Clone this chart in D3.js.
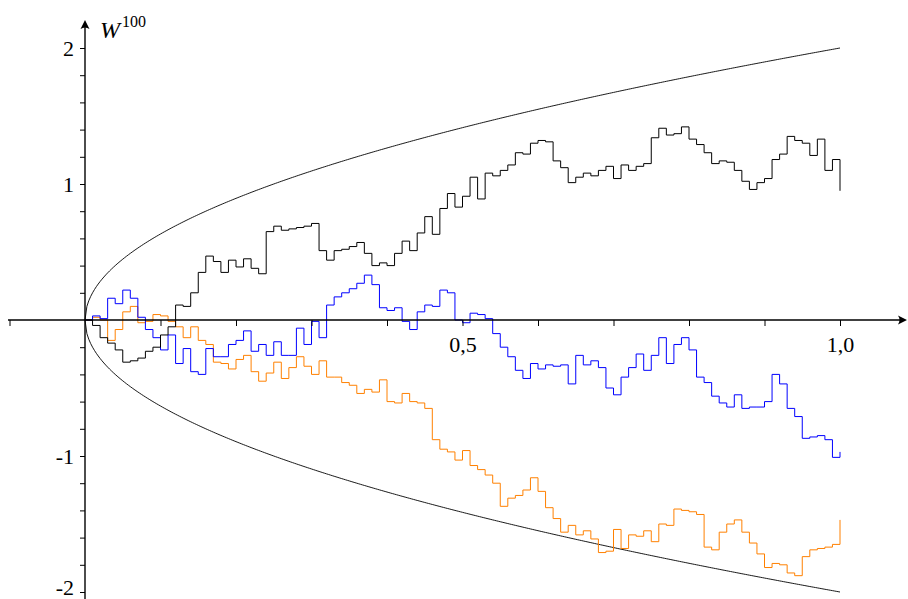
<!DOCTYPE html>
<html>
<head>
<meta charset="utf-8">
<script src="https://cdn.jsdelivr.net/npm/d3@7"></script>
<style>
  html, body { margin: 0; padding: 0; background: #fff; }
  svg { display: block; }
  text { font-family: "Liberation Serif", "DejaVu Serif", serif; fill: #000; }
</style>
</head>
<body>
<svg id="chart" width="908" height="599"></svg>
<script>
// Three sample paths of the scaled random walk W^100 on [0, 1], values at t = k/100
const walkBlack = [0, -0.04, -0.13, -0.17, -0.22, -0.31, -0.30, -0.28, -0.23, -0.20,
  -0.11, -0.05, 0.11, 0.10, 0.20, 0.35, 0.47, 0.43, 0.35, 0.44,
  0.39, 0.45, 0.38, 0.34, 0.65, 0.69, 0.66, 0.67, 0.68, 0.69,
  0.71, 0.51, 0.44, 0.51, 0.52, 0.54, 0.57, 0.49, 0.40, 0.42,
  0.40, 0.49, 0.58, 0.51, 0.64, 0.76, 0.63, 0.82, 0.93, 0.83,
  0.91, 1.05, 0.89, 1.08, 1.06, 1.10, 1.14, 1.23, 1.22, 1.30,
  1.32, 1.31, 1.17, 1.12, 1.01, 1.05, 1.08, 1.06, 1.10, 1.13,
  1.04, 1.14, 1.10, 1.13, 1.15, 1.34, 1.41, 1.36, 1.37, 1.42,
  1.33, 1.29, 1.23, 1.15, 1.17, 1.16, 1.10, 1.02, 0.96, 1.01,
  1.04, 1.18, 1.22, 1.35, 1.32, 1.30, 1.21, 1.33, 1.10, 1.18,
  0.95];

const walkBlue = [0, 0.03, 0.01, 0.16, 0.12, 0.22, 0.16, 0.02, -0.07, -0.13,
  -0.22, -0.11, -0.32, -0.21, -0.38, -0.40, -0.21, -0.27, -0.27, -0.18,
  -0.15, -0.08, -0.23, -0.18, -0.26, -0.16, -0.26, -0.26, -0.06, -0.18,
  -0.01, -0.13, 0.11, 0.17, 0.20, 0.23, 0.27, 0.33, 0.26, 0.09,
  0.07, 0.09, -0.01, -0.07, 0.06, 0.11, 0.10, 0.22, 0.20, 0.00,
  -0.02, 0.05, 0.04, 0.01, -0.10, -0.20, -0.27, -0.37, -0.43, -0.32,
  -0.36, -0.33, -0.34, -0.33, -0.47, -0.26, -0.33, -0.30, -0.35, -0.50,
  -0.55, -0.42, -0.35, -0.25, -0.37, -0.26, -0.13, -0.32, -0.18, -0.13,
  -0.22, -0.42, -0.46, -0.56, -0.61, -0.64, -0.55, -0.65, -0.64, -0.64,
  -0.60, -0.40, -0.47, -0.65, -0.71, -0.87, -0.86, -0.85, -0.88, -1.01,
  -0.97];

const walkOrange = [0, 0.02, 0.00, -0.15, -0.07, 0.06, 0.10, -0.02, -0.01, 0.04,
  0.03, -0.01, -0.05, -0.13, -0.05, -0.15, -0.18, -0.31, -0.32, -0.36,
  -0.29, -0.26, -0.38, -0.45, -0.39, -0.31, -0.43, -0.35, -0.27, -0.34,
  -0.40, -0.30, -0.42, -0.42, -0.46, -0.48, -0.54, -0.51, -0.53, -0.44,
  -0.60, -0.61, -0.54, -0.60, -0.61, -0.65, -0.88, -0.95, -0.97, -1.03,
  -0.96, -1.07, -1.10, -1.14, -1.20, -1.37, -1.31, -1.29, -1.25, -1.16,
  -1.26, -1.38, -1.46, -1.56, -1.51, -1.58, -1.55, -1.61, -1.71, -1.70,
  -1.54, -1.68, -1.58, -1.59, -1.55, -1.63, -1.50, -1.51, -1.39, -1.40,
  -1.41, -1.43, -1.67, -1.69, -1.56, -1.50, -1.47, -1.56, -1.64, -1.72,
  -1.82, -1.79, -1.80, -1.86, -1.88, -1.74, -1.69, -1.68, -1.67, -1.65,
  -1.47];

const xTicks = [-0.1, 0.1, 0.2, 0.3, 0.4, 0.5, 0.6, 0.7, 0.8, 0.9, 1.0];
const xTickLabels = ["", "", "", "", "", "0,5", "", "", "", "", "1,0"];
const yTicks = [-2, -1.8, -1.6, -1.4, -1.2, -1, -0.8, -0.6, -0.4, -0.2,
  0.2, 0.4, 0.6, 0.8, 1, 1.2, 1.4, 1.6, 1.8, 2];
const yTickLabels = { "-2": "-2", "-1": "-1", "1": "1", "2": "2" };

const svg = d3.select("#chart");
const x = d3.scaleLinear().domain([0, 1]).range([85, 840]);
const y = d3.scaleLinear().domain([-2, 2]).range([592, 48]);

// Envelope ±2·sqrt(t)
const tGrid = d3.range(0, 1.0001, 0.0025);
const env = d3.line().x(t => x(t)).curve(d3.curveLinear);
[1, -1].forEach(s => {
  svg.append("path")
    .attr("d", env.y(t => y(s * 2 * Math.sqrt(t)))(tGrid))
    .attr("fill", "none").attr("stroke", "#000").attr("stroke-width", 0.9);
});

// Step paths
const stepLine = d3.line()
  .x((d, i) => x(i / (d.n - 1)))
  .y(d => y(d.v))
  .curve(d3.curveStepAfter);
function drawWalk(vals, color) {
  const pts = vals.map(v => ({ v, n: vals.length }));
  svg.append("path")
    .attr("d", stepLine(pts))
    .attr("fill", "none").attr("stroke", color).attr("stroke-width", 1)
    .attr("stroke-linejoin", "miter");
}
drawWalk(walkOrange, "#ff8000");
drawWalk(walkBlue, "#0000ff");
drawWalk(walkBlack, "#000000");

// Axes with arrow heads
const axisG = svg.append("g");
const x0 = x(0), y0 = y(0);
axisG.append("line")
  .attr("x1", x(-0.102)).attr("x2", 902).attr("y1", y0).attr("y2", y0)
  .attr("stroke", "#000").attr("stroke-width", 1.4);
axisG.append("line")
  .attr("x1", x0).attr("x2", x0).attr("y1", 599).attr("y2", 24)
  .attr("stroke", "#000").attr("stroke-width", 1.4);
function arrow(tx, ty, dir) {
  // dir: "right" or "up"
  const p = dir === "right"
    ? `M${tx},${ty} L${tx - 9},${ty - 4.5} Q${tx - 6},${ty} ${tx - 9},${ty + 4.5} Z`
    : `M${tx},${ty} L${tx - 4.5},${ty + 9} Q${tx},${ty + 6} ${tx + 4.5},${ty + 9} Z`;
  axisG.append("path").attr("d", p).attr("fill", "#000");
}
arrow(907, y0, "right");
arrow(x0, 20, "up");

// x ticks and labels
const xAxis = d3.axisBottom(x)
  .tickValues(xTicks)
  .tickSize(6)
  .tickPadding(10)
  .tickFormat((d, i) => xTickLabels[i]);
const gx = svg.append("g").attr("transform", `translate(0,${y0})`).call(xAxis);
gx.select(".domain").remove();
gx.selectAll(".tick line").attr("stroke", "#000").attr("stroke-width", 1);
gx.selectAll(".tick text")
  .style("font-family", '"Liberation Serif", "DejaVu Serif", serif')
  .style("font-size", "22px").attr("fill", "#000");

// y ticks and labels
const yAxis = d3.axisLeft(y)
  .tickValues(yTicks)
  .tickSize(5)
  .tickPadding(6)
  .tickFormat(d => yTickLabels[String(d)] || "");
const gy = svg.append("g").attr("transform", `translate(${x0},0)`).call(yAxis);
gy.select(".domain").remove();
gy.selectAll(".tick line").attr("stroke", "#000").attr("stroke-width", 1);
gy.selectAll(".tick text")
  .style("font-family", '"Liberation Serif", "DejaVu Serif", serif')
  .style("font-size", "22px").attr("fill", "#000");
// lowest label sits at the bottom edge; lift it just enough to stay inside
gy.selectAll(".tick").filter(d => d === -2).select("text").attr("dy", "0.12em");

// Axis title W^100
const title = svg.append("text").attr("x", 100).attr("y", 38)
  .style("font-size", "24px");
title.append("tspan").attr("font-style", "italic").text("W");
title.append("tspan").attr("dx", 2).attr("dy", -11).style("font-size", "16px").text("100");
</script>
</body>
</html>
